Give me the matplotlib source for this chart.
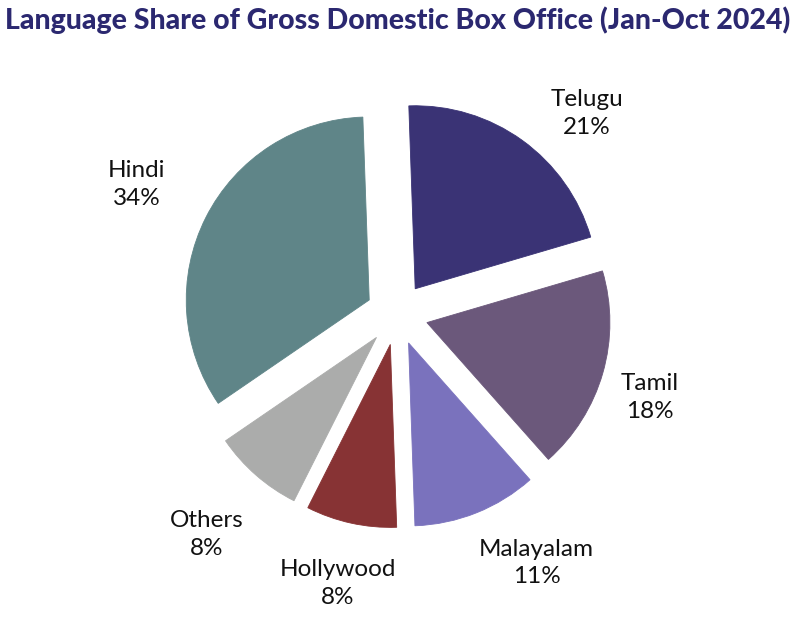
import matplotlib.pyplot as plt
import numpy as np

# data
languages = ["Telugu", "Tamil", "Malayalam", "Hollywood", "Others", "Hindi"]
shares = [21, 18, 11, 8, 8, 34]
colors = ["#3a3375", "#6b587b", "#7a72bd", "#873334", "#abacab", "#5f8588"]

# label placement (angle tweak in degrees, distance in radii)
label_shift = [-7.6, -2.2, 7.5, 0.0, 0.4, 0.3]
label_dist = [1.51, 1.455, 1.56, 1.51, 1.59, 1.59]

plt.rcParams['font.family'] = ['Lato', 'DejaVu Sans']

fig = plt.figure(figsize=(8, 6.22), dpi=100)
ax = fig.add_axes([0, 0, 1, 1])

wedges, _ = ax.pie(shares, startangle=92, counterclock=False, colors=colors,
                   explode=[0.17] * len(shares),
                   wedgeprops=dict(linewidth=0.6, edgecolor="white"))
for w, c in zip(wedges, colors):
    w.set_edgecolor(c)

for w, name, val, sh, d in zip(wedges, languages, shares, label_shift, label_dist):
    ang = np.deg2rad((w.theta1 + w.theta2) / 2 + sh)
    ax.text(d * np.cos(ang), d * np.sin(ang), "%s\n%d%%" % (name, val),
            ha="center", va="center", fontsize=17.5, color="#111111",
            linespacing=1.4)

s = 183.0
ax.set_xlim(-397 / s, (800 - 397) / s)
ax.set_ylim(-308 / s, (622 - 308) / s)
ax.axis("off")

fig.text(0.497, 0.968, "Language Share of Gross Domestic Box Office (Jan-Oct 2024)",
         ha="center", va="center", fontsize=20.5, fontweight="black", color="#2b2870")

fig.savefig("out.png", dpi=100)
